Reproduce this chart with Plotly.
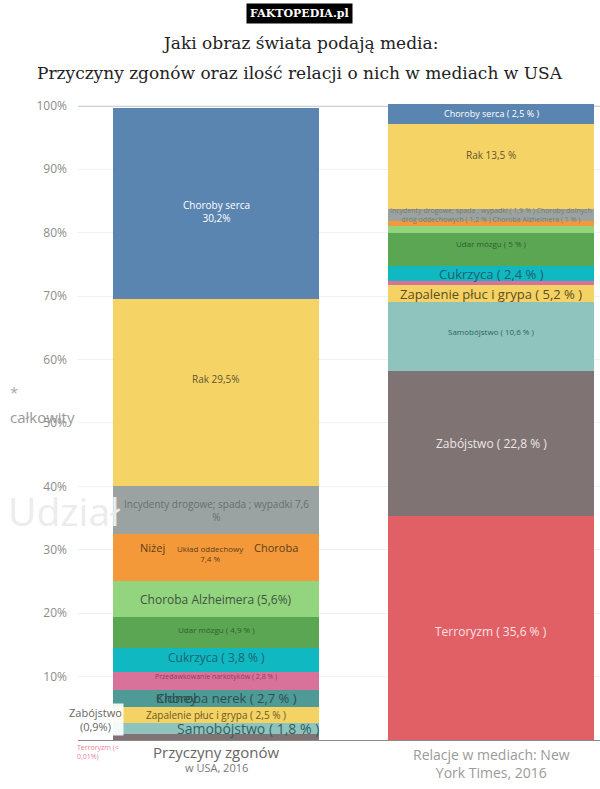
import plotly.graph_objects as go

# ---------------- data ----------------
bar_names = ["Przyczyny zgonów", "Relacje w mediach: New York Times"]
causes = ["Terroryzm", "Zabójstwo", "Samobójstwo", "Zapalenie płuc i grypa",
          "Choroba nerek", "Przedawkowanie narkotyków", "Cukrzyca", "Udar mózgu",
          "Choroba Alzheimera", "Choroby dolnych dróg oddechowych",
          "Incydenty drogowe", "Rak", "Choroby serca"]
deaths = [0.01, 0.9, 1.8, 2.5, 2.7, 2.8, 3.8, 4.9, 5.6, 7.4, 7.6, 29.5, 30.2]
media = [35.4, 22.8, 10.8, 2.8, 0.0, 0.5, 2.4, 5.3, 1.0, 0.8, 1.9, 13.5, 3.1]
colors = ["#e06066", "#7f7473", "#8ec4bd", "#f4d264", "#4d9a96", "#d9729b",
          "#10b8c2", "#5ba653", "#93d47f", "#f4993a", "#9ba3a2", "#f6d365", "#5b85b1"]
y_ticks = [0, 10, 20, 30, 40, 50, 60, 70, 80, 90, 100]
y_tick_labels = ["", "10%", "20%", "30%", "40%", "50%", "60%", "70%", "80%", "90%", "100%"]

# label text per cause: (text, size, color, xshift, yshift, anchor)
left_labels = [
    ("Terroryzm (<<br>0,01%)", 7, "#e8849a", -141, -12, "left"),
    ("Zabójstwo<br>(0,9%)", 11, "#666666", -121, 18, "center"),
    ("Samobójstwo ( 1,8 % )", 14, "#2f6163", 32, 0, "center"),
    ("Zapalenie płuc i grypa ( 2,5 % )", 10, "#6b5a26", 0, 0, "center"),
    ("Choroba nerek ( 2,7 % )", 13, "#2c4f4e", 10, 0, "center"),
    ("Przedawkowanie narkotyków ( 2,8 % )", 7, "#8e3d5c", 0, 4, "center"),
    ("Cukrzyca ( 3,8 % )", 12, "#1b6470", 0, 3, "center"),
    ("Udar mózgu ( 4,9 % )", 8, "#2f5e2c", 0, 3, "center"),
    ("Choroba Alzheimera (5,6%)", 12, "#3f553f", 0, 0, "center"),
    ("Układ oddechowy<br>7,4 %", 8, "#5c3d1a", -6, 4, "center"),
    ("Incydenty drogowe; spada ; wypadki 7,6<br>%", 10, "#6a6e6e", 0, 0, "center"),
    ("Rak 29,5%", 10, "#5e5430", 0, 14, "center"),
    ("Choroby serca<br>30,2%", 10, "#ffffff", 0, -8, "center"),
]
right_labels = [
    ("Terroryzm ( 35,6 % )", 12, "#fbe3e3", 0, -4, "center"),
    ("Zabójstwo ( 22,8 % )", 12, "#ece6e6", 0, 0, "center"),
    ("Samobójstwo ( 10,6 % )", 8, "#2f5f60", 0, 5, "center"),
    ("Zapalenie płuc i grypa ( 5,2 % )", 13, "#5e4e23", 0, 0, "center"),
    None,
    None,
    ("Cukrzyca ( 2,4 % )", 13, "#1c5f6e", 0, 0, "center"),
    ("Udar mózgu ( 5 % )", 8, "#2e5c2b", 0, 6, "center"),
    None,
    None,
    ("Incydenty drogowe; spada ; wypadki ( 1,9 % ) Choroby dolnych<br>dróg oddechowych ( 1,2 % ) Choroba Alzheimera ( 1 % )",
     7, "#7a7a6a", 0, 0, "center"),
    ("Rak 13,5 %", 10, "#5e5430", 0, 11, "center"),
    ("Choroby serca ( 2,5 % )", 9, "#ffffff", 0, 0, "center"),
]

FONT = "Open Sans, Noto Sans, sans-serif"
SERIF = "DejaVu Serif, serif"

ML, MT, MB, W, HT = 78, 102, 49, 600, 789
PW = W - ML
H = HT - MT - MB


def px_x(px):
    return (px - ML) / PW


def px_y(px):
    return (HT - MB - px) / H


fig = go.Figure()
for i, c in enumerate(causes):
    fig.add_trace(go.Bar(
        x=[0, 1], y=[deaths[i], media[i]], name=c,
        marker=dict(color=colors[i], line=dict(width=0)),
        hoverinfo="name+y", showlegend=False))

annotations = []


def add_labels(xpos, values, labels):
    cum = 0.0
    for v, lab in zip(values, labels):
        mid = cum + v / 2
        cum += v
        if lab is None:
            continue
        text, size, color, dx, dy, anchor = lab
        annotations.append(dict(
            x=xpos, y=mid, xref="x", yref="y", text=text, showarrow=False,
            xanchor=anchor, yanchor="middle", xshift=dx, yshift=dy,
            align="left" if anchor == "left" else "center",
            font=dict(family=FONT, size=size, color=color),
            bgcolor="rgba(255,255,255,0.9)" if text.startswith("Zabójstwo<br>") else None))


add_labels(0, deaths, left_labels)
add_labels(1, media, right_labels)

# extra fragments inside the orange segment and overlapped "Kidney" text
orange_mid = sum(deaths[:9]) + deaths[9] / 2
annotations.append(dict(x=0, y=orange_mid, xref="x", yref="y", text="Niżej", showarrow=False,
                        xshift=-64, yshift=10, font=dict(family=FONT, size=11, color="#5c3d1a")))
annotations.append(dict(x=0, y=orange_mid, xref="x", yref="y", text="Choroba", showarrow=False,
                        xshift=60, yshift=10, font=dict(family=FONT, size=11, color="#5c3d1a")))
kid_mid = sum(deaths[:4]) + deaths[4] / 2
annotations.append(dict(x=0, y=kid_mid, xref="x", yref="y", text="Kidney", showarrow=False,
                        xshift=-40, yshift=0, font=dict(family=FONT, size=13, color="#2c4f4e")))

# category labels under bars
annotations += [
    dict(x=0, y=0, xref="x", yref="paper", text="Przyczyny zgonów", showarrow=False,
         yanchor="middle", yshift=-12, font=dict(family=FONT, size=15, color="#666666")),
    dict(x=0, y=0, xref="x", yref="paper", text="w USA, 2016", showarrow=False,
         yanchor="middle", yshift=-27, font=dict(family=FONT, size=11, color="#777777")),
    dict(x=1, y=0, xref="x", yref="paper", text="Relacje w mediach: New<br>York Times, 2016",
         showarrow=False, yanchor="middle", yshift=-23,
         font=dict(family=FONT, size=14, color="#9a9a9a")),
]

# axis title fragments
annotations += [
    dict(x=px_x(8), y=px_y(392), xref="paper", yref="paper", text="*", showarrow=False,
         xanchor="left", yanchor="middle", font=dict(family=FONT, size=15, color="#aaaaaa")),
    dict(x=px_x(8), y=px_y(417), xref="paper", yref="paper", text="całkowity", showarrow=False,
         xanchor="left", yanchor="middle", font=dict(family=FONT, size=15, color="#999999")),
    dict(x=px_x(6), y=px_y(510), xref="paper", yref="paper", text="Udział", showarrow=False,
         xanchor="left", yanchor="middle", font=dict(family=FONT, size=39, color="#ececec")),
]

# badge and two-line title
annotations += [
    dict(x=px_x(299), y=px_y(13), xref="paper", yref="paper", text="<b>FAKTOPEDIA.pl</b>",
         showarrow=False, xanchor="center", yanchor="middle",
         font=dict(family=SERIF, size=11, color="white"), bgcolor="black", borderpad=3),
    dict(x=px_x(300), y=px_y(43), xref="paper", yref="paper",
         text="Jaki obraz świata podają media:", showarrow=False, xanchor="center",
         yanchor="middle", font=dict(family=SERIF, size=17, color="#222222")),
    dict(x=px_x(300), y=px_y(73), xref="paper", yref="paper",
         text="Przyczyny zgonów oraz ilość relacji o nich w mediach w USA", showarrow=False,
         xanchor="center", yanchor="middle", font=dict(family=SERIF, size=17, color="#222222")),
]

fig.update_layout(
    width=W, height=HT,
    margin=dict(l=ML, r=0, t=MT, b=MB, autoexpand=False),
    paper_bgcolor="white", plot_bgcolor="white",
    barmode="stack", bargap=0.25,
    annotations=annotations,
    xaxis=dict(range=[-0.502, 1.396], tickvals=[0, 1], showticklabels=False,
               showgrid=False, zeroline=False, showline=True, linecolor="#8a8a8a",
               linewidth=1, fixedrange=True, automargin=False),
    yaxis=dict(range=[0, 100.6], tickvals=y_ticks, ticktext=y_tick_labels, showgrid=True,
               gridcolor="#f1f1f1", zeroline=False, showline=False, automargin=False,
               tickfont=dict(family=FONT, size=12, color="#8c8c8c"),
               ticklabelstandoff=10),
    shapes=[dict(type="line", xref="paper", yref="y", x0=0, x1=1, y0=100, y1=100,
                 line=dict(color="#666666", width=1), layer="below")],
)

fig.write_html("out.html", config={"displayModeBar": False},
               post_script="document.body.style.margin='0';document.body.style.padding='0';")
